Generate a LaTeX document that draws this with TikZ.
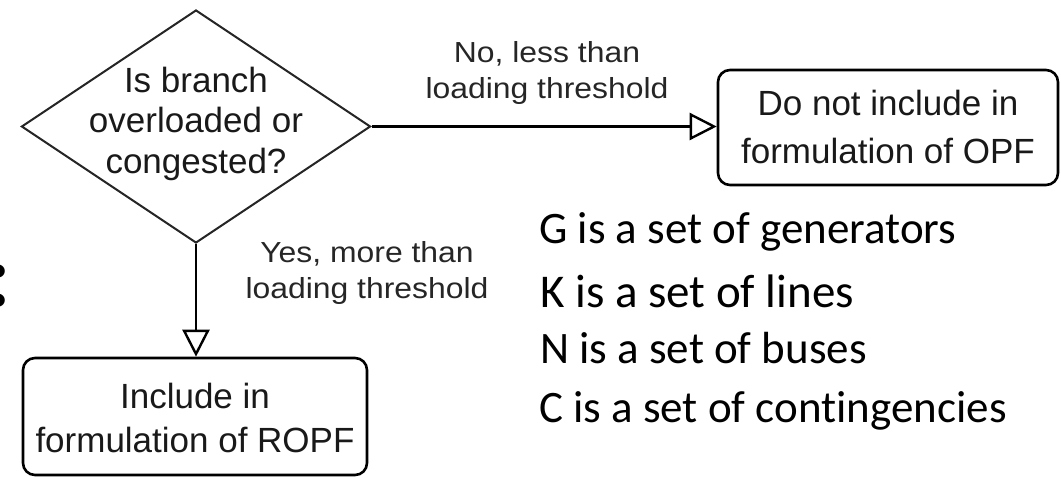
\documentclass[tikz,border=0pt]{standalone}
\usepackage{fontspec}
\usetikzlibrary{shapes.geometric,arrows.meta}
\newfontfamily\chartfont{Liberation Sans}
\newfontfamily\edgefont[FakeStretch=1.1]{Liberation Sans}
\newfontfamily\listfont[Ligatures=NoCommon]{Carlito}
\tikzset{
  decision/.style={diamond, draw=black!85, line width=2pt, inner sep=0pt,
    minimum width=349pt, minimum height=233pt},
  outcome/.style={draw=black, line width=2.6pt, rounded corners=12pt, inner sep=0pt},
  chart text/.style={font=\chartfont\fontsize{35}{41}\selectfont, align=center,
    inner sep=0pt, anchor=base, text=black!90},
  edge label/.style={font=\edgefont\fontsize{29}{36}\selectfont, align=center,
    inner sep=0pt, anchor=base, text=black!85},
  list item/.style={font=\listfont\fontsize{45}{50}\selectfont, anchor=base west,
    inner sep=0pt},
  conn/.style={line width=2.6pt,
    -{Triangle[open, length=27pt, width=27pt, line width=2.4pt]}}
}
\begin{document}
\begin{tikzpicture}[x=1pt, y=-1pt]
\useasboundingbox (0,0) rectangle (1061,477);

% decision and outcome shapes (text nodes are placed by their last baseline)
\node[decision] (dec) at (196,126.5) {};
\node[chart text] (dectext) at (196,173)
  {Is branch\\[-0.5pt]overloaded or\\[-0.5pt]congested?};

\node[outcome, minimum width=340pt, minimum height=115pt] (nobox) at (888,127.5) {};
\node[chart text] (notext) at (888,163)
  {Do not include in\\[7pt]formulation of OPF};

\node[outcome, minimum width=344pt, minimum height=117pt] (yesbox) at (195,416.5) {};
\node[chart text] (yestext) at (195,452)
  {Include in\\[3pt]formulation of ROPF};

% connectors
\draw[conn] (dec.east) -- (nobox.west |- dec.east);
\draw[conn] (dec.south) -- (dec.south |- yesbox.north);

% branch labels
\node[edge label] (nolabel) at (547,98) {No, less than\\loading threshold};
\node[edge label] (yeslabel) at (367,298) {Yes, more than\\loading threshold};

% set definitions
\node[list item] (gset) at (539,243) {G is a set of generators};
\node[list item, font=\listfont\fontsize{47}{50}\selectfont] (kset) at (540,307) {K is a set of lines};
\node[list item] (nset) at (540,363) {N is a set of buses};
\node[list item] (cset) at (539,422) {C is a set of contingencies};

% colon at the left edge
\node[font=\listfont\bfseries\fontsize{88}{88}\selectfont, anchor=base, inner sep=0pt]
  (colon) at (-1,306) {:};
\end{tikzpicture}
\end{document}
